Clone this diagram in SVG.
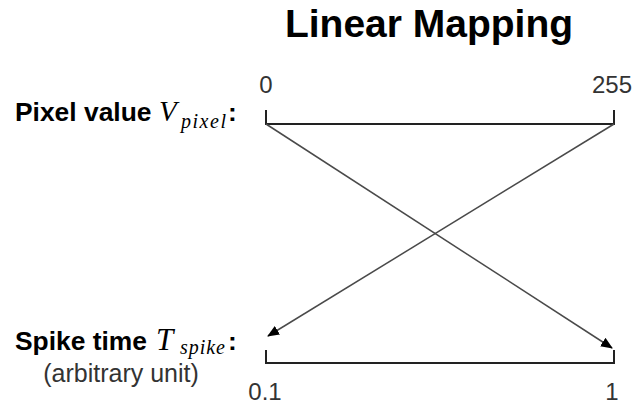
<svg xmlns="http://www.w3.org/2000/svg" width="635" height="407" viewBox="0 0 635 407">
<style>
.title{font-family:"Liberation Sans",Arial,sans-serif;font-weight:bold;font-size:39px;fill:#000}
.lbl{font-family:"Liberation Sans",Arial,sans-serif;font-weight:bold;font-size:26.4px;fill:#000}
.sub{font-family:"Liberation Sans",Arial,sans-serif;font-size:25px;fill:#333}
.num{font-family:"Liberation Sans",Arial,sans-serif;font-size:24px;fill:#333;text-anchor:middle}
.math{font-family:"Liberation Serif","Times New Roman",serif;font-style:italic;fill:#000}
.bracket{fill:none;stroke:#222;stroke-width:2}
.conn{fill:none;stroke:#4a4a4a;stroke-width:1.5}
</style>
<defs>
<marker id="arr" markerUnits="userSpaceOnUse" markerWidth="12" markerHeight="10" refX="11" refY="5" orient="auto">
<path d="M0,0 L12,5 L0,10 Z" fill="#000"/>
</marker>
</defs>
<g id="title"><text class="title" x="429" y="37" text-anchor="middle">Linear Mapping</text></g>
<g id="pixel-label">
<text class="lbl" x="15" y="121">Pixel value</text>
<text class="math" x="159" y="121" font-size="29">V</text>
<text class="math" x="181" y="128" font-size="20" textLength="45" lengthAdjust="spacing">pixel</text>
<text class="lbl" x="228" y="121">:</text>
</g>
<g id="spike-label">
<text class="lbl" x="15" y="350">Spike time</text>
<text class="math" x="156" y="350" font-size="31">T</text>
<text class="math" x="180" y="354" font-size="20" textLength="45" lengthAdjust="spacing">spike</text>
<text class="lbl" x="228" y="350">:</text>
<text class="sub" x="121" y="382" text-anchor="middle">(arbitrary unit)</text>
</g>
<g id="pixel-axis">
<path class="bracket" d="M266,110 V124 H614 V110"/>
<text class="num" x="266" y="93">0</text>
<text class="num" x="612" y="93">255</text>
</g>
<g id="spike-axis">
<path class="bracket" d="M266,350 V363 H614 V350"/>
<text class="num" x="265" y="400">0.1</text>
<text class="num" x="612" y="400">1</text>
</g>
<g id="connectors">
<path class="conn" d="M266,124 L612,348" marker-end="url(#arr)"/>
<path class="conn" d="M614,124 L268,336" marker-end="url(#arr)"/>
</g>
</svg>
